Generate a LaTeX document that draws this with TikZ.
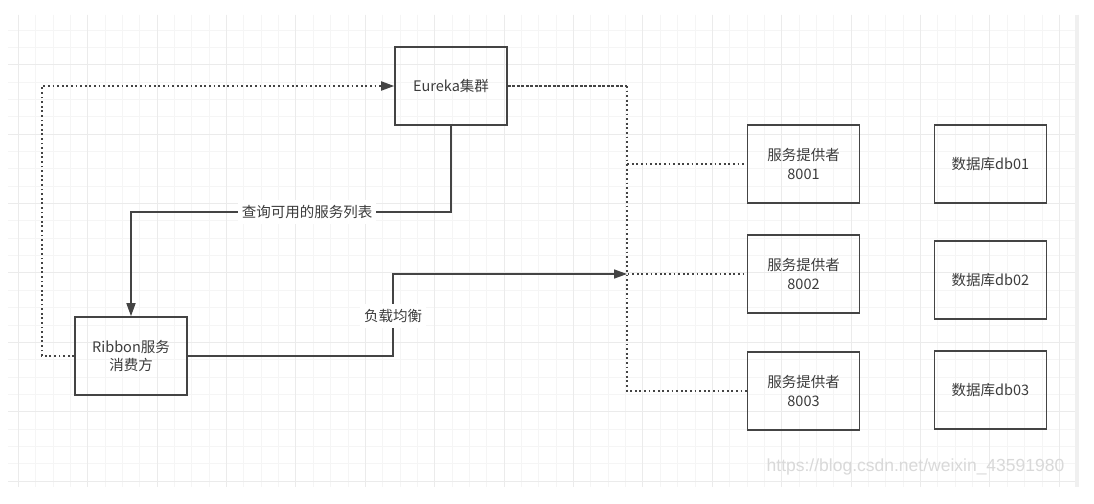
\documentclass[tikz,border=0pt]{standalone}
\usepackage{fontspec}
\setmainfont{Noto Sans CJK SC}
\newfontfamily\markfont{Liberation Sans}
\usetikzlibrary{arrows.meta}
\definecolor{edgegray}{HTML}{444444}
\definecolor{txtgray}{HTML}{3C3C3C}

\begin{document}
\begin{tikzpicture}[x=1pt, y=-1pt,
    box/.style={draw=edgegray, line width=1.6pt, minimum width=112pt, minimum height=78pt,
        inner sep=0pt, align=center, text=txtgray, font=\fontsize{14.5}{18.5}\selectfont},
    lbl/.style={fill=white, inner xsep=4pt, inner ysep=5pt, text=txtgray,
        font=\fontsize{14.5}{18.5}\selectfont},
    link/.style={draw=edgegray, line width=1.5pt},
    dotlink/.style={draw=edgegray, line width=1.8pt, dash pattern=on 1.8pt off 2.8pt},
    dashlink/.style={draw=edgegray, line width=1.8pt, dash pattern=on 3pt off 1.5pt},
    tip/.style={-{Triangle[length=13pt, width=9pt]}},
    minorline/.style={draw=gray!8, line width=0.9pt},
    majorline/.style={draw=gray!16, line width=0.9pt}]
    \useasboundingbox (0,0) rectangle (1094,503);
    \fill[white] (0,0) rectangle (1094,503);

    % grid paper
    \foreach \i in {0,...,60} \draw[minorline] ({18.3+17.35*\i},15) -- ({18.3+17.35*\i},487);
    \foreach \j in {0,...,26} \draw[minorline] (8,{30+17.35*\j}) -- (1077,{30+17.35*\j});
    \foreach \i in {0,4,...,60} \draw[majorline] ({18.3+17.35*\i},15) -- ({18.3+17.35*\i},487);
    \foreach \j in {2,6,...,26} \draw[majorline] (8,{30+17.35*\j}) -- (1077,{30+17.35*\j});
    \draw[gray!12, line width=4pt] (1077,15) -- (1077,487);

    % boxes
    \node[box] (eureka) at (451,86) {Eureka集群};
    \node[box] (ribbon) at (131,356) {Ribbon服务\\消费方};
    \node[box] (p1) at (803.5,164) {服务提供者\\8001};
    \node[box] (p2) at (803.5,274) {服务提供者\\8002};
    \node[box] (p3) at (803.5,391) {服务提供者\\8003};
    \node[box] (db1) at (990.5,164) {数据库db01};
    \node[box] (db2) at (990.5,280) {数据库db02};
    \node[box] (db3) at (990.5,390) {数据库db03};

    % register / fetch
    \coordinate (loopL) at (42,86);
    \draw[dotlink, tip] (ribbon.west) -| (loopL) -- (eureka.west);
    \coordinate (query) at (307,212);
    \draw[link, tip] (eureka.south) |- (query) -| (ribbon.north);
    \node[lbl] (querylbl) at (query) {查询可用的服务列表};

    % providers on the bus
    \coordinate (bus) at (627,86);
    \draw[dashlink] (eureka.east) -- (bus);
    \foreach \p in {p1,p2,p3} \draw[dotlink] (bus) |- (\p.west);

    % load balancing call
    \coordinate (lb) at (393,316);
    \draw[link, tip] (ribbon.east) -| (lb) |- (bus |- p2.west);
    \node[lbl] (lblbl) at (lb) {负载均衡};

    \node[text=gray!30, font=\markfont\fontsize{17.5}{20}\selectfont] (mark) at (915.5,467)
        {https://blog.csdn.net/weixin\_43591980};
\end{tikzpicture}
\end{document}
